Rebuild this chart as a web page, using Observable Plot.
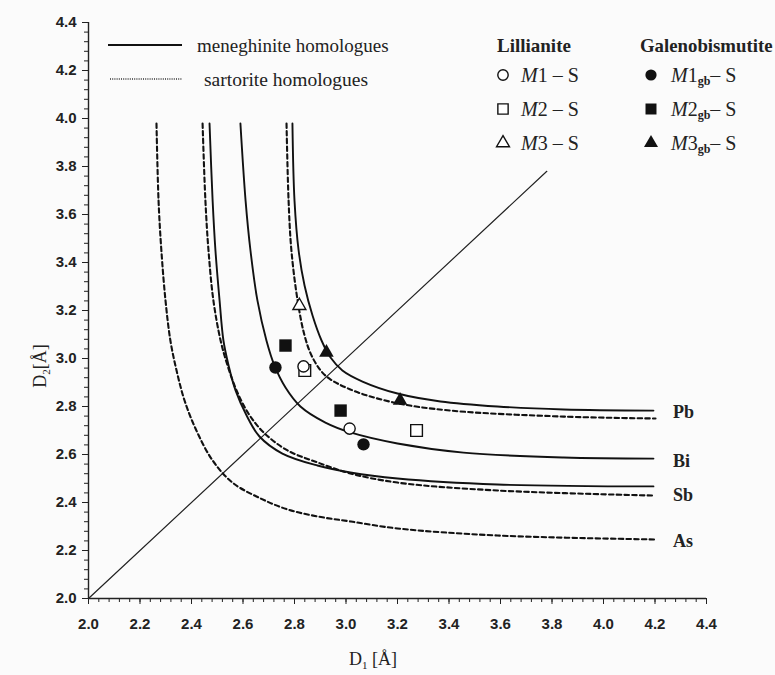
<!DOCTYPE html>
<html>
<head>
<meta charset="utf-8">
<script src="https://cdn.jsdelivr.net/npm/d3@7"></script>
<script src="https://cdn.jsdelivr.net/npm/@observablehq/plot@0.6"></script>
<style>
  html, body { margin: 0; padding: 0; background: #fbfbfb; }
  #chart { width: 775px; height: 675px; }
</style>
</head>
<body>
<div id="chart"></div>
<script>
// ---- Data ----
const xTicks = [2.0, 2.2, 2.4, 2.6, 2.8, 3.0, 3.2, 3.4, 3.6, 3.8, 4.0, 4.2, 4.4];
const yTicks = [2.0, 2.2, 2.4, 2.6, 2.8, 3.0, 3.2, 3.4, 3.6, 3.8, 4.0, 4.2, 4.4];

// meneghinite homologues (solid)
const pbSolid = [[2.792,3.979],[2.800,3.658],[2.816,3.45],[2.839,3.304],[2.870,3.179],[2.905,3.075],[2.940,3.004],[2.986,2.95],[3.064,2.904],[3.200,2.854],[3.367,2.821],[3.588,2.80],[3.845,2.7875],[4.194,2.783]];
const biSolid = [[2.590,3.979],[2.610,3.658],[2.629,3.45],[2.656,3.242],[2.691,3.075],[2.722,2.971],[2.765,2.879],[2.823,2.80],[2.920,2.733],[3.017,2.692],[3.200,2.646],[3.456,2.608],[3.845,2.5875],[4.194,2.583]];
const sbSolid = [[2.470,3.979],[2.482,3.658],[2.493,3.45],[2.509,3.242],[2.524,3.075],[2.544,2.971],[2.571,2.867],[2.614,2.7625],[2.664,2.675],[2.753,2.604],[2.889,2.554],[3.017,2.525],[3.200,2.50],[3.588,2.475],[4.194,2.467]];

// sartorite homologues (dashed)
const pbDashed = [[2.769,3.979],[2.777,3.658],[2.788,3.45],[2.812,3.242],[2.839,3.096],[2.870,3.004],[2.920,2.929],[3.017,2.871],[3.184,2.817],[3.406,2.783],[3.845,2.758],[4.202,2.75]];
const sbDashed = [[2.443,3.979],[2.454,3.658],[2.466,3.45],[2.485,3.242],[2.513,3.075],[2.540,2.971],[2.575,2.867],[2.621,2.771],[2.680,2.692],[2.773,2.617],[2.889,2.567],[3.017,2.521],[3.200,2.483],[3.588,2.45],[4.194,2.429]];
const asDashed = [[2.264,3.979],[2.272,3.658],[2.283,3.45],[2.299,3.242],[2.318,3.075],[2.342,2.95],[2.373,2.825],[2.419,2.70],[2.482,2.575],[2.559,2.483],[2.668,2.417],[2.773,2.371],[2.889,2.342],[3.017,2.321],[3.200,2.292],[3.588,2.2625],[4.202,2.246]];

const diagonal = [[2.0,2.0],[3.78,3.78]];

const curveNames = ["Pb", "Bi", "Sb", "As"];
const curveLabelY = [2.778, 2.572, 2.43, 2.24];
const curveLabelX = 4.2;

// Lillianite (open) and Galenobismutite (filled) points
const m1S    = [[2.835,2.967],[3.014,2.708]];
const m2S    = [[2.84,2.95],[3.274,2.70]];
const m3S    = [[2.819,3.22]];
const m1gbS  = [[2.726,2.9625],[3.068,2.642]];
const m2gbS  = [[2.765,3.054],[2.979,2.783]];
const m3gbS  = [[2.924,3.025],[3.21,2.825]];

const minorTicks = d3.range(0, 61).map(i => +(2 + i * 0.04).toFixed(2));

const serif = "'Liberation Serif', 'DejaVu Serif', serif";
const sans = "'Liberation Sans', Arial, sans-serif";

const curveLabels = curveNames.map((name, i) => ({name, x: curveLabelX, y: curveLabelY[i]}));

const lineOpts = {x: d => d[0], y: d => d[1], stroke: "#111", strokeWidth: 1.9, curve: "catmull-rom"};
const dashOpts = {...lineOpts, strokeDasharray: "4.5,3.2", strokeWidth: 2.1};

const openDot = (data, symbol, r) => Plot.dot(data, {x: d => d[0], y: d => d[1], symbol, r, fill: "white", stroke: "#111", strokeWidth: 1.4});
const fillDot = (data, symbol, r) => Plot.dot(data, {x: d => d[0], y: d => d[1], symbol, r, fill: "#111", stroke: "none"});

const plot = Plot.plot({
  width: 775,
  height: 675,
  marginLeft: 88,
  marginRight: 69,
  marginTop: 22,
  marginBottom: 77,
  style: {background: "#fbfbfb", fontFamily: sans, overflow: "visible"},
  x: {domain: [2, 4.4], label: null},
  y: {domain: [2, 4.4], label: null},
  marks: [
    Plot.axisX({ticks: minorTicks, tickSize: 4, tickFormat: () => "", label: null, stroke: "#222"}),
    Plot.axisY({ticks: minorTicks, tickSize: 4, tickFormat: () => "", label: null, stroke: "#222"}),
    Plot.axisX({ticks: xTicks, tickSize: 6, tickPadding: 14, tickFormat: d3.format(".1f"), label: null, fontSize: 15, fontWeight: "bold", fill: "#222", stroke: "#222"}),
    Plot.axisY({ticks: yTicks, tickSize: 6, tickPadding: 6, tickFormat: d3.format(".1f"), label: null, fontSize: 15, fontWeight: "bold", fill: "#222", stroke: "#222"}),
    Plot.ruleX([2], {stroke: "#222", strokeWidth: 1.4}),
    Plot.ruleY([2], {stroke: "#222", strokeWidth: 1.4}),
    Plot.line(diagonal, {x: d => d[0], y: d => d[1], stroke: "#222", strokeWidth: 1.2}),
    Plot.line(asDashed, dashOpts),
    Plot.line(sbDashed, dashOpts),
    Plot.line(pbDashed, dashOpts),
    Plot.line(sbSolid, lineOpts),
    Plot.line(biSolid, lineOpts),
    Plot.line(pbSolid, lineOpts),
    Plot.text(curveLabels, {x: "x", y: "y", text: "name", dx: 18, textAnchor: "start", fontFamily: serif, fontWeight: "bold", fontSize: 18, fill: "#222"}),
    openDot(m3S, "triangle", 4.8),
    fillDot(m2gbS, "square", 7),
    fillDot(m1gbS, "circle", 6.2),
    fillDot(m3gbS, "triangle", 5.4),
    openDot(m2S, "square", 6.6),
    openDot(m1S, "circle", 5.6)
  ]
});

document.getElementById("chart").appendChild(plot);

// ---- Axis titles and legends (layout text) ----
const svg = d3.select(plot);
const g = svg.append("g").attr("fill", "#222");
const txt = (x, y, size) => g.append("text").attr("x", x).attr("y", y)
  .style("font-family", serif).style("font-size", size + "px").attr("text-anchor", "start");

// x title
const xt = txt(349, 665, 18);
xt.append("tspan").text("D");
xt.append("tspan").style("font-size", "11px").attr("dy", 4).text("1");
xt.append("tspan").attr("dy", -4).text(" [Å]");

// y title
const yt = g.append("text").attr("transform", "translate(46,366) rotate(-90)")
  .attr("text-anchor", "middle").style("font-family", serif).style("font-size", "18px");
yt.append("tspan").text("D");
yt.append("tspan").style("font-size", "11px").attr("dy", 4).text("2");
yt.append("tspan").attr("dy", -4).text("[Å]");

// line legend
g.append("line").attr("x1", 108).attr("x2", 182).attr("y1", 45).attr("y2", 45).attr("stroke", "#111").attr("stroke-width", 1.8);
txt(197, 52, 19).text("meneghinite homologues");
g.append("line").attr("x1", 110).attr("x2", 182).attr("y1", 79).attr("y2", 79).attr("stroke", "#333").attr("stroke-width", 1.4).attr("stroke-dasharray", "1,1.2");
txt(204, 86, 19.5).text("sartorite homologues");

// symbol legend
txt(497, 52, 19).style("font-weight", "bold").text("Lillianite");
txt(640, 52, 18.8).style("font-weight", "bold").text("Galenobismutite");

const symArea = r => Math.PI * r * r;
const legendRows = [
  {sym: d3.symbolCircle, n: "1", y: 75, ro: 5.2, rf: 5.6},
  {sym: d3.symbolSquare, n: "2", y: 109, ro: 5.8, rf: 6.2},
  {sym: d3.symbolTriangle, n: "3", y: 143, ro: 4.8, rf: 5.2}
];
legendRows.forEach(row => {
  g.append("path").attr("d", d3.symbol(row.sym, symArea(row.ro))()).attr("transform", `translate(503,${row.y})`)
    .attr("fill", "white").attr("stroke", "#111").attr("stroke-width", 1.4);
  const t1 = txt(521, row.y + 7, 20);
  t1.append("tspan").style("font-style", "italic").text("M");
  t1.append("tspan").text(row.n + " – S");

  g.append("path").attr("d", d3.symbol(row.sym, symArea(row.rf))()).attr("transform", `translate(651,${row.y})`)
    .attr("fill", "#111");
  const t2 = txt(671, row.y + 7, 20);
  t2.append("tspan").style("font-style", "italic").text("M");
  t2.append("tspan").text(row.n);
  t2.append("tspan").style("font-size", "12px").style("font-weight", "bold").attr("dy", 3).text("gb");
  t2.append("tspan").attr("dy", -3).text("– S");
});
</script>
</body>
</html>
